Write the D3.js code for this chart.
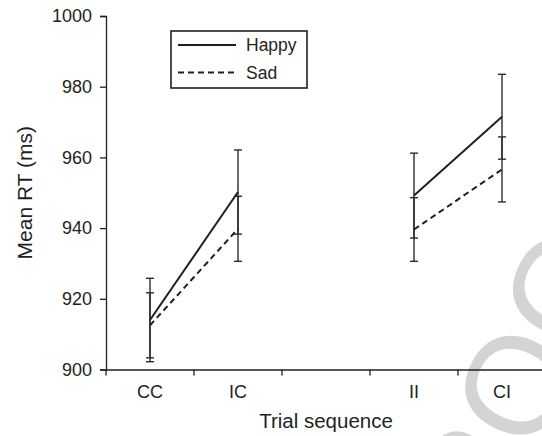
<!DOCTYPE html>
<html>
<head>
<meta charset="utf-8">
<script src="https://cdn.jsdelivr.net/npm/d3@7"></script>
<style>
  body { margin: 0; background: #fff; }
  svg { display: block; font-family: "Liberation Sans", Arial, sans-serif; }
</style>
</head>
<body>
<div id="chart"></div>
<script>
// trial sequences (the blank slot is the gap between IC and II)
const categories = ["CC", "IC", "", "II", "CI"];
const happyMean = [914, 950.2, null, 949.2, 971.5];
const happyErr = [11.8, 11.9, null, 12, 12];
const sadMean = [912.5, 939.8, null, 939.6, 956.6];
const sadErr = [9.2, 9.2, null, 9, 9.2];
const yTicks = [900, 920, 940, 960, 980, 1000];
const segments = [[0, 1], [3, 4]];

const width = 542, height = 436;
const margin = { top: 16, right: -4, bottom: 66.5, left: 106 };
const ink = "#231f20";

const svg = d3.select("#chart").append("svg")
    .attr("width", width)
    .attr("height", height);

// watermark
svg.append("text")
    .attr("transform", "translate(450,630) rotate(-64)")
    .attr("fill", "#d4d4d4")
    .style("font-size", "140px")
    .text("PROOF");

const x = d3.scaleBand()
    .domain(categories.map((c, i) => i))
    .range([margin.left, width - margin.right])
    .padding(0);

const y = d3.scaleLinear()
    .domain([900, 1000])
    .range([height - margin.bottom, margin.top]);

const xAxis = svg.append("g")
    .attr("transform", `translate(0,${height - margin.bottom})`)
    .call(d3.axisBottom(x).tickSize(0).tickFormat(i => categories[i]));
xAxis.select(".domain").attr("stroke", ink).attr("stroke-width", 1.3);
xAxis.selectAll("text").attr("fill", ink).style("font-size", "18px").attr("y", 0).attr("dy", "28.5px");

// ticks sit on the band edges
const edges = d3.range(categories.length).map(i => x(i));
svg.append("g").selectAll("line")
    .data(edges)
    .join("line")
    .attr("x1", d => d).attr("x2", d => d)
    .attr("y1", height - margin.bottom)
    .attr("y2", height - margin.bottom + 6)
    .attr("stroke", ink).attr("stroke-width", 1.3);

const yAxis = svg.append("g")
    .attr("transform", `translate(${margin.left},0)`)
    .call(d3.axisLeft(y).tickValues(yTicks).tickSize(6).tickPadding(8).tickFormat(d3.format("d")));
yAxis.select(".domain").attr("stroke", ink).attr("stroke-width", 1.3);
yAxis.selectAll(".tick line").attr("stroke", ink).attr("stroke-width", 1.3);
yAxis.selectAll("text").attr("fill", ink).style("font-size", "18px");

svg.append("text")
    .attr("x", (margin.left + width - margin.right) / 2)
    .attr("y", 428)
    .attr("text-anchor", "middle")
    .attr("fill", ink)
    .style("font-size", "20.5px")
    .text("Trial sequence");

svg.append("text")
    .attr("transform", `translate(32,${(margin.top + height - margin.bottom) / 2}) rotate(-90)`)
    .attr("text-anchor", "middle")
    .attr("fill", ink)
    .style("font-size", "21px")
    .text("Mean RT (ms)");

const cx = i => x(i) + x.bandwidth() / 2;

const series = [
    { name: "Happy", mean: happyMean, err: happyErr, dash: null },
    { name: "Sad", mean: sadMean, err: sadErr, dash: "6,4" }
];

series.forEach(s => {
    // error bars
    const pts = s.mean.map((m, i) => ({ i, m, e: s.err[i] })).filter(d => d.m != null);
    const eb = svg.append("g").attr("stroke", "#2b2b2b").attr("stroke-width", 1.4);
    eb.selectAll(".bar").data(pts).join("line")
        .attr("x1", d => cx(d.i)).attr("x2", d => cx(d.i))
        .attr("y1", d => y(d.m - d.e)).attr("y2", d => y(d.m + d.e));
    eb.selectAll(".capTop").data(pts).join("line")
        .attr("x1", d => cx(d.i) - 4).attr("x2", d => cx(d.i) + 4)
        .attr("y1", d => y(d.m + d.e)).attr("y2", d => y(d.m + d.e));
    eb.selectAll(".capBot").data(pts).join("line")
        .attr("x1", d => cx(d.i) - 4).attr("x2", d => cx(d.i) + 4)
        .attr("y1", d => y(d.m - d.e)).attr("y2", d => y(d.m - d.e));
});

series.forEach(s => {
    const line = d3.line().x(i => cx(i)).y(i => y(s.mean[i]));
    segments.forEach(seg => {
        svg.append("path")
            .attr("d", line(seg))
            .attr("fill", "none")
            .attr("stroke", ink)
            .attr("stroke-width", 2)
            .attr("stroke-dasharray", s.dash);
    });
});

// legend
const legend = svg.append("g");
legend.append("rect")
    .attr("x", 171).attr("y", 31).attr("width", 136).attr("height", 57)
    .attr("fill", "#fff").attr("stroke", ink).attr("stroke-width", 1.6);
series.forEach((s, i) => {
    const ly = 45 + i * 27.5;
    legend.append("line")
        .attr("x1", 178).attr("x2", 236).attr("y1", ly).attr("y2", ly)
        .attr("stroke", ink).attr("stroke-width", 2)
        .attr("stroke-dasharray", s.dash);
    legend.append("text")
        .attr("x", 246).attr("y", ly).attr("dy", "0.35em")
        .attr("fill", ink).style("font-size", "17.5px")
        .text(s.name);
});
</script>
</body>
</html>
